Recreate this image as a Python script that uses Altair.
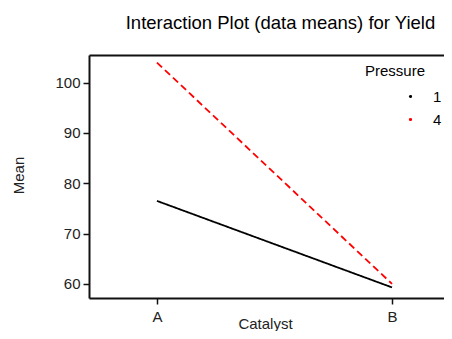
import altair as alt
import pandas as pd

catalyst = ["A", "B"]
pressure = ["1", "4"]
means_p1 = [76.5, 59.3]
means_p4 = [104.0, 60.0]

rows = []
for c, v in zip(catalyst, means_p1):
    rows.append({"Catalyst": c, "Pressure": "1", "Mean": v})
for c, v in zip(catalyst, means_p4):
    rows.append({"Catalyst": c, "Pressure": "4", "Mean": v})
df = pd.DataFrame(rows)

FONT = "Liberation Sans"
cat_list = "['" + "','".join(catalyst) + "']"
xscale = alt.Scale(domain=[-0.289, 1.221], nice=False, zero=False)
yscale = alt.Scale(domain=[57.2, 105.5], nice=False, zero=False)

color = alt.Color("Pressure:N",
                  scale=alt.Scale(domain=pressure, range=["#000000", "#ff0000"]),
                  legend=alt.Legend(orient="none", legendX=276, legendY=9,
                                    title="Pressure", symbolType="circle", symbolSize=3,
                                    symbolStrokeWidth=1.5, symbolDash=[1, 0],
                                    symbolOffset=38, labelOffset=15, rowPadding=7,
                                    titlePadding=10, titleFontSize=15, labelFontSize=15,
                                    titleFontWeight="normal", titleFont=FONT, labelFont=FONT,
                                    titleColor="#000", labelColor="#000"))
dash = alt.StrokeDash("Pressure:N",
                      scale=alt.Scale(domain=pressure, range=[[1, 0], [7, 4]]),
                      legend=None)

base = alt.Chart(df).transform_calculate(
    idx=f"indexof({cat_list}, datum.Catalyst)"
)

lines = base.mark_line(strokeWidth=1.8).encode(
    x=alt.X("idx:Q", title="Catalyst", scale=xscale,
            axis=alt.Axis(values=[0, 1], labelExpr=f"{cat_list}[datum.value]",
                          tickSize=6, labelPadding=5,
                          titleBaseline="alphabetic", titleY=30, titleX=176)),
    y=alt.Y("Mean:Q", title="Mean", scale=yscale,
            axis=alt.Axis(values=[60, 70, 80, 90, 100], tickSize=6, labelPadding=3,
                          titleX=-71, titleY=120, titleAngle=270, titleBaseline="middle",
                          titleAlign="center")),
    color=color,
    strokeDash=dash,
)

frame_top = base.mark_line(opacity=0).encode(
    x=alt.X("idx:Q", scale=xscale,
            axis=alt.Axis(orient="top", labels=False, ticks=False, title=None)),
    y=alt.Y("Mean:Q", scale=yscale, axis=None),
    color=color,
)

chart = alt.layer(lines, frame_top).resolve_axis(x="independent", y="independent").properties(
    width=355, height=243,
    autosize=alt.AutoSizeParams(type="none"),
    padding={"left": 81, "top": 47, "right": 0, "bottom": 33},
    title=alt.TitleParams("Interaction Plot (data means) for Yield", fontSize=18.5,
                          font=FONT, fontWeight="normal", color="#000", offset=23, dx=14),
).configure_view(
    stroke=None
).configure_axis(
    grid=False, domainColor="#111", domainWidth=2, tickColor="#111", tickWidth=1.5,
    labelFont=FONT, labelFontSize=15, labelColor="#222", titleFont=FONT, titleFontSize=15,
    titleFontWeight="normal", titleColor="#222"
)

chart.save("out.html", embed_options={"renderer": "svg", "actions": False})
